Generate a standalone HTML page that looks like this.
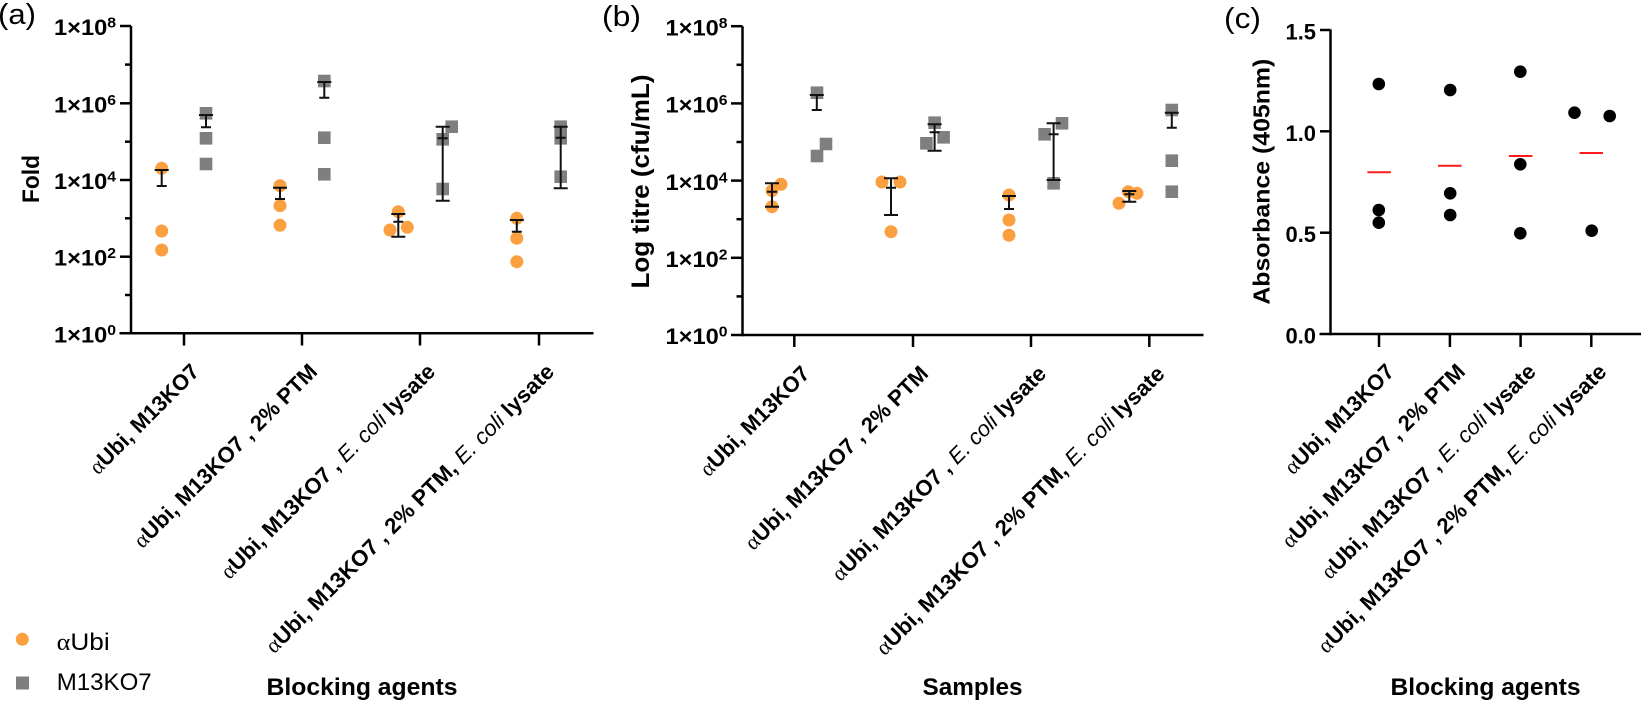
<!DOCTYPE html>
<html>
<head>
<meta charset="utf-8">
<style>
html,body{margin:0;padding:0;background:#fff;}
svg{display:block;}
text{font-family:"Liberation Sans",Arial,sans-serif;fill:#000;}
.al{font-family:"Liberation Serif",serif;font-weight:normal;}
.it{font-style:italic;font-weight:normal;}
</style>
</head>
<body>
<svg width="1641" height="703" viewBox="0 0 1641 703" xmlns="http://www.w3.org/2000/svg">
<rect width="1641" height="703" fill="#fff"/>

<!-- panel labels -->
<text x="-2" y="24" font-size="29" textLength="38" lengthAdjust="spacingAndGlyphs">(a)</text>
<text x="602" y="26" font-size="29" textLength="39" lengthAdjust="spacingAndGlyphs">(b)</text>
<text x="1224" y="28" font-size="29" textLength="37" lengthAdjust="spacingAndGlyphs">(c)</text>

<!-- ================= PANEL A ================= -->
<g stroke="#000" stroke-width="2.5" fill="none">
  <line x1="131" y1="26" x2="131" y2="334.5"/>
  <line x1="119.5" y1="333.3" x2="593.5" y2="333.3"/>
  <line x1="120" y1="26" x2="131" y2="26"/>
  <line x1="120" y1="103.3" x2="131" y2="103.3"/>
  <line x1="120" y1="180" x2="131" y2="180"/>
  <line x1="120" y1="256.7" x2="131" y2="256.7"/>
  <line x1="125" y1="64.6" x2="131" y2="64.6"/>
  <line x1="125" y1="141.7" x2="131" y2="141.7"/>
  <line x1="125" y1="218.3" x2="131" y2="218.3"/>
  <line x1="125" y1="295" x2="131" y2="295"/>
  <line x1="184" y1="333.3" x2="184" y2="345.5"/>
  <line x1="302" y1="333.3" x2="302" y2="345.5"/>
  <line x1="420" y1="333.3" x2="420" y2="345.5"/>
  <line x1="539" y1="333.3" x2="539" y2="345.5"/>
</g>
<g font-size="22.5" font-weight="bold" text-anchor="end">
  <text x="116" y="35" textLength="62" lengthAdjust="spacingAndGlyphs">1×10<tspan font-size="15" dy="-7.5">8</tspan></text>
  <text x="116" y="112.3" textLength="62" lengthAdjust="spacingAndGlyphs">1×10<tspan font-size="15" dy="-7.5">6</tspan></text>
  <text x="116" y="189" textLength="62" lengthAdjust="spacingAndGlyphs">1×10<tspan font-size="15" dy="-7.5">4</tspan></text>
  <text x="116" y="265.7" textLength="62" lengthAdjust="spacingAndGlyphs">1×10<tspan font-size="15" dy="-7.5">2</tspan></text>
  <text x="116" y="342.3" textLength="62" lengthAdjust="spacingAndGlyphs">1×10<tspan font-size="15" dy="-7.5">0</tspan></text>
</g>
<text transform="translate(39,179) rotate(-90)" text-anchor="middle" font-size="24" font-weight="bold" textLength="48" lengthAdjust="spacingAndGlyphs">Fold</text>

<g fill="#7f7f7f">
  <rect x="199.7" y="107" width="12.6" height="12.6"/>
  <rect x="199.7" y="132" width="12.6" height="12.6"/>
  <rect x="199.7" y="157.7" width="12.6" height="12.6"/>
  <rect x="318" y="74.7" width="12.6" height="12.6"/>
  <rect x="318" y="131.4" width="12.6" height="12.6"/>
  <rect x="318" y="168" width="12.6" height="12.6"/>
  <rect x="436.4" y="133" width="12.6" height="12.6"/>
  <rect x="445.4" y="120.4" width="12.6" height="12.6"/>
  <rect x="436.4" y="182.7" width="12.6" height="12.6"/>
  <rect x="554.4" y="120.4" width="12.6" height="12.6"/>
  <rect x="554.4" y="132" width="12.6" height="12.6"/>
  <rect x="554.4" y="170.4" width="12.6" height="12.6"/>
</g>
<g fill="#faa040">
  <circle cx="161.7" cy="168.3" r="6.5"/>
  <circle cx="161.7" cy="231" r="6.5"/>
  <circle cx="161.7" cy="250" r="6.5"/>
  <circle cx="280" cy="185.7" r="6.5"/>
  <circle cx="280" cy="205.7" r="6.5"/>
  <circle cx="280" cy="225.3" r="6.5"/>
  <circle cx="398.3" cy="211.7" r="6.5"/>
  <circle cx="390" cy="230" r="6.5"/>
  <circle cx="407.3" cy="227.3" r="6.5"/>
  <circle cx="516.8" cy="218.3" r="6.5"/>
  <circle cx="516.8" cy="238.3" r="6.5"/>
  <circle cx="516.8" cy="261.7" r="6.5"/>
</g>
<g stroke="#111" stroke-width="2" fill="none">
  <path d="M161.7 170V186M154.7 170H168.7M156.7 186H166.7"/>
  <path d="M206 115V127.3M199 115H213M201 127.3H211"/>
  <path d="M280 187.7V199M273 187.7H287M275 199H285"/>
  <path d="M324.3 82V97.7M317.3 82H331.3M319.3 97.7H329.3"/>
  <path d="M398.3 214V236.7M391.3 214H405.3M393.3 221.7H403.3M391.3 236.7H405.3"/>
  <path d="M442.7 126.7V200.7M435.7 126.7H449.7M437.7 138.3H447.7M435.7 200.7H449.7"/>
  <path d="M516.8 220V231.7M509.8 220H523.8M511.8 231.7H521.8"/>
  <path d="M560.7 126.7V188.3M553.7 126.7H567.7M555.7 137.7H565.7M553.7 188.3H567.7"/>
</g>
<g font-size="22" font-weight="bold" text-anchor="end">
  <text transform="translate(200.5,373) rotate(-45)" textLength="145" lengthAdjust="spacingAndGlyphs"><tspan class="al">α</tspan>Ubi, M13KO7</text>
  <text transform="translate(318.5,373) rotate(-45)" textLength="249" lengthAdjust="spacingAndGlyphs"><tspan class="al">α</tspan>Ubi, M13KO7 , 2% PTM</text>
  <text transform="translate(436.5,373) rotate(-45)" textLength="293" lengthAdjust="spacingAndGlyphs"><tspan class="al">α</tspan>Ubi, M13KO7 , <tspan class="it">E. coli</tspan> lysate</text>
  <text transform="translate(555.5,373) rotate(-45)" textLength="398" lengthAdjust="spacingAndGlyphs"><tspan class="al">α</tspan>Ubi, M13KO7 , 2% PTM, <tspan class="it">E. coli</tspan> lysate</text>
</g>
<text x="362" y="695" text-anchor="middle" font-size="24.5" font-weight="bold" textLength="191" lengthAdjust="spacingAndGlyphs">Blocking agents</text>

<!-- legend -->
<circle cx="22.3" cy="639.3" r="6.5" fill="#faa040"/>
<text x="56.7" y="650" font-size="24.5" textLength="53" lengthAdjust="spacingAndGlyphs"><tspan class="al">α</tspan>Ubi</text>
<rect x="16" y="676.5" width="13" height="13" fill="#7f7f7f"/>
<text x="56.7" y="690" font-size="24.5" textLength="95" lengthAdjust="spacingAndGlyphs">M13KO7</text>

<!-- ================= PANEL B ================= -->
<g stroke="#000" stroke-width="2.5" fill="none">
  <line x1="742.5" y1="26.2" x2="742.5" y2="336.2"/>
  <line x1="731" y1="335" x2="1203.5" y2="335"/>
  <line x1="731" y1="26.2" x2="742.5" y2="26.2"/>
  <line x1="731" y1="103.4" x2="742.5" y2="103.4"/>
  <line x1="731" y1="180.6" x2="742.5" y2="180.6"/>
  <line x1="731" y1="257.8" x2="742.5" y2="257.8"/>
  <line x1="736.5" y1="64.8" x2="742.5" y2="64.8"/>
  <line x1="736.5" y1="142" x2="742.5" y2="142"/>
  <line x1="736.5" y1="219.2" x2="742.5" y2="219.2"/>
  <line x1="736.5" y1="296.4" x2="742.5" y2="296.4"/>
  <line x1="794.3" y1="335" x2="794.3" y2="347"/>
  <line x1="913" y1="335" x2="913" y2="347"/>
  <line x1="1031" y1="335" x2="1031" y2="347"/>
  <line x1="1149.3" y1="335" x2="1149.3" y2="347"/>
</g>
<g font-size="22.5" font-weight="bold" text-anchor="end">
  <text x="727.5" y="35.4" textLength="62" lengthAdjust="spacingAndGlyphs">1×10<tspan font-size="15" dy="-7.5">8</tspan></text>
  <text x="727.5" y="112.6" textLength="62" lengthAdjust="spacingAndGlyphs">1×10<tspan font-size="15" dy="-7.5">6</tspan></text>
  <text x="727.5" y="189.8" textLength="62" lengthAdjust="spacingAndGlyphs">1×10<tspan font-size="15" dy="-7.5">4</tspan></text>
  <text x="727.5" y="267" textLength="62" lengthAdjust="spacingAndGlyphs">1×10<tspan font-size="15" dy="-7.5">2</tspan></text>
  <text x="727.5" y="344" textLength="62" lengthAdjust="spacingAndGlyphs">1×10<tspan font-size="15" dy="-7.5">0</tspan></text>
</g>
<text transform="translate(649,181.5) rotate(-90)" text-anchor="middle" font-size="25" font-weight="bold" textLength="214" lengthAdjust="spacingAndGlyphs">Log titre (cfu/mL)</text>

<g fill="#7f7f7f">
  <rect x="810.7" y="86.4" width="12.6" height="12.6"/>
  <rect x="810.7" y="149.7" width="12.6" height="12.6"/>
  <rect x="819.7" y="137.7" width="12.6" height="12.6"/>
  <rect x="928.3" y="116.4" width="12.6" height="12.6"/>
  <rect x="920.1" y="137" width="12.6" height="12.6"/>
  <rect x="937.3" y="131" width="12.6" height="12.6"/>
  <rect x="1038.3" y="128" width="12.6" height="12.6"/>
  <rect x="1055.7" y="117" width="12.6" height="12.6"/>
  <rect x="1047.3" y="177" width="12.6" height="12.6"/>
  <rect x="1165.5" y="103.7" width="12.6" height="12.6"/>
  <rect x="1165.5" y="154.4" width="12.6" height="12.6"/>
  <rect x="1165.5" y="185.4" width="12.6" height="12.6"/>
</g>
<g fill="#faa040">
  <circle cx="772" cy="206.7" r="6.5"/>
  <circle cx="772" cy="190.7" r="6.5"/>
  <circle cx="781" cy="184.3" r="6.5"/>
  <circle cx="882" cy="182" r="6.5"/>
  <circle cx="900" cy="182" r="6.5"/>
  <circle cx="891" cy="231.7" r="6.5"/>
  <circle cx="1009" cy="195" r="6.5"/>
  <circle cx="1009" cy="220" r="6.5"/>
  <circle cx="1009" cy="235.3" r="6.5"/>
  <circle cx="1119" cy="203.3" r="6.5"/>
  <circle cx="1128.3" cy="191.7" r="6.5"/>
  <circle cx="1137" cy="193.3" r="6.5"/>
</g>
<g stroke="#111" stroke-width="2" fill="none">
  <path d="M772 183.3V206.7M765 183.3H779M767 191.7H777M765 206.7H779"/>
  <path d="M816.8 95V110M809.8 95H823.8M811.8 110H821.8"/>
  <path d="M891 178.3V215M884 178.3H898M886 187.7H896M884 215H898"/>
  <path d="M934.6 124.3V150.7M927.6 124.3H941.6M929.6 132.3H939.6M927.6 150.7H941.6"/>
  <path d="M1009 196V209M1002 196H1016M1004 209H1014"/>
  <path d="M1053.6 123.3V180M1046.6 123.3H1060.6M1048.6 134.3H1058.6M1046.6 180H1060.6"/>
  <path d="M1129.3 191V201.7M1122.3 191H1136.3M1124.3 194.3H1134.3M1122.3 201.7H1136.3"/>
  <path d="M1171.8 112.7V127.7M1164.8 112.7H1178.8M1166.8 127.7H1176.8"/>
</g>
<g font-size="22" font-weight="bold" text-anchor="end">
  <text transform="translate(811,375) rotate(-45)" textLength="145" lengthAdjust="spacingAndGlyphs"><tspan class="al">α</tspan>Ubi, M13KO7</text>
  <text transform="translate(929.5,375) rotate(-45)" textLength="249" lengthAdjust="spacingAndGlyphs"><tspan class="al">α</tspan>Ubi, M13KO7 , 2% PTM</text>
  <text transform="translate(1047.5,375) rotate(-45)" textLength="293" lengthAdjust="spacingAndGlyphs"><tspan class="al">α</tspan>Ubi, M13KO7 , <tspan class="it">E. coli</tspan> lysate</text>
  <text transform="translate(1166,375) rotate(-45)" textLength="398" lengthAdjust="spacingAndGlyphs"><tspan class="al">α</tspan>Ubi, M13KO7 , 2% PTM, <tspan class="it">E. coli</tspan> lysate</text>
</g>
<text x="972.5" y="695" text-anchor="middle" font-size="24.5" font-weight="bold" textLength="100" lengthAdjust="spacingAndGlyphs">Samples</text>

<!-- ================= PANEL C ================= -->
<g stroke="#000" stroke-width="2.5" fill="none">
  <line x1="1330.5" y1="29.5" x2="1330.5" y2="335.2"/>
  <line x1="1319.5" y1="334" x2="1641" y2="334"/>
  <line x1="1320" y1="30" x2="1330.5" y2="30"/>
  <line x1="1320" y1="131.3" x2="1330.5" y2="131.3"/>
  <line x1="1320" y1="232.7" x2="1330.5" y2="232.7"/>
  <line x1="1379" y1="334" x2="1379" y2="347"/>
  <line x1="1449.9" y1="334" x2="1449.9" y2="347"/>
  <line x1="1520.6" y1="334" x2="1520.6" y2="347"/>
  <line x1="1591.3" y1="334" x2="1591.3" y2="347"/>
</g>
<g font-size="22" font-weight="bold" text-anchor="end">
  <text x="1316" y="39.5" textLength="30.5" lengthAdjust="spacingAndGlyphs">1.5</text>
  <text x="1316" y="140.8" textLength="30.5" lengthAdjust="spacingAndGlyphs">1.0</text>
  <text x="1316" y="242.2" textLength="30.5" lengthAdjust="spacingAndGlyphs">0.5</text>
  <text x="1316" y="343.5" textLength="30.5" lengthAdjust="spacingAndGlyphs">0.0</text>
</g>
<text transform="translate(1269.5,181.7) rotate(-90)" text-anchor="middle" font-size="23.5" font-weight="bold" textLength="246" lengthAdjust="spacingAndGlyphs">Absorbance (405nm)</text>

<g fill="#000">
  <circle cx="1378.8" cy="84" r="6.3"/>
  <circle cx="1378.8" cy="210" r="6.3"/>
  <circle cx="1378.8" cy="222.7" r="6.3"/>
  <circle cx="1450.2" cy="90" r="6.3"/>
  <circle cx="1450.2" cy="193.3" r="6.3"/>
  <circle cx="1450.2" cy="215" r="6.3"/>
  <circle cx="1520.3" cy="71.7" r="6.3"/>
  <circle cx="1520.3" cy="164.3" r="6.3"/>
  <circle cx="1520.3" cy="233.3" r="6.3"/>
  <circle cx="1574.5" cy="112.7" r="6.3"/>
  <circle cx="1609.7" cy="116" r="6.3"/>
  <circle cx="1591.7" cy="230.7" r="6.3"/>
</g>
<g stroke="#ff1a1a" stroke-width="2">
  <line x1="1367.4" y1="172.3" x2="1390.9" y2="172.3"/>
  <line x1="1438" y1="165.7" x2="1461.6" y2="165.7"/>
  <line x1="1508.9" y1="156" x2="1532.4" y2="156"/>
  <line x1="1579.6" y1="153" x2="1603" y2="153"/>
</g>
<g font-size="22" font-weight="bold" text-anchor="end">
  <text transform="translate(1395.5,373) rotate(-45)" textLength="145" lengthAdjust="spacingAndGlyphs"><tspan class="al">α</tspan>Ubi, M13KO7</text>
  <text transform="translate(1466.4,373) rotate(-45)" textLength="249" lengthAdjust="spacingAndGlyphs"><tspan class="al">α</tspan>Ubi, M13KO7 , 2% PTM</text>
  <text transform="translate(1537.1,373) rotate(-45)" textLength="293" lengthAdjust="spacingAndGlyphs"><tspan class="al">α</tspan>Ubi, M13KO7 , <tspan class="it">E. coli</tspan> lysate</text>
  <text transform="translate(1607.8,373) rotate(-45)" textLength="398" lengthAdjust="spacingAndGlyphs"><tspan class="al">α</tspan>Ubi, M13KO7 , 2% PTM, <tspan class="it">E. coli</tspan> lysate</text>
</g>
<text x="1485.5" y="695" text-anchor="middle" font-size="24.5" font-weight="bold" textLength="190" lengthAdjust="spacingAndGlyphs">Blocking agents</text>
</svg>
</body>
</html>
